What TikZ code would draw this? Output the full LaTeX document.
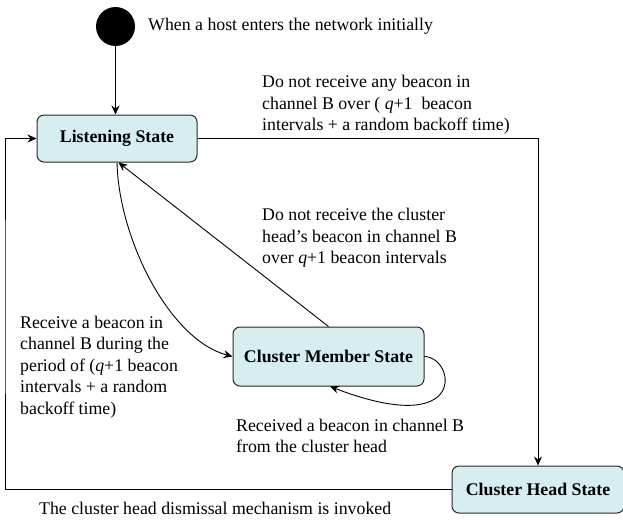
\documentclass[tikz,border=0pt]{standalone}
\usepackage{fontspec}
\setmainfont{Liberation Serif}
\usetikzlibrary{arrows.meta}
\definecolor{statefill}{RGB}{214,238,240}
\definecolor{stateline}{RGB}{40,40,40}
\tikzset{
  statebox/.style={draw=stateline, fill=statefill, line width=1pt, rounded corners=7pt,
    inner sep=0pt, font=\fontsize{17.8}{21.6}\selectfont\bfseries},
  lbl/.style={inner sep=0pt, anchor=west, align=left, font=\fontsize{17.8}{21.6}\selectfont},
  conn/.style={draw=black, line width=0.9pt, -{Stealth[length=9pt,width=8pt,inset=3pt]}},
  plain/.style={draw=black, line width=0.9pt}
}
\begin{document}
\begin{tikzpicture}[x=1pt,y=-1pt]
\useasboundingbox (0,0) rectangle (623,519);
% states
\node[circle, fill=black, minimum size=39pt, inner sep=0pt] (start) at (115.5,26.5) {};
\node[statebox, minimum width=160pt, minimum height=47pt] (listen) at (117,138.5) {Listening State};
\node[statebox, minimum width=191pt, minimum height=59pt] (member) at (328.5,356.5) {Cluster Member State};
\node[statebox, minimum width=172pt, minimum height=47pt] (head) at (538,489.5) {Cluster Head State};
% labels
\node[lbl] (t0) at (148,26.5) {When a host enters the network initially};
\node[lbl] (t1) at (262,105) {Do not receive any beacon in\\channel B over ( \textit{q}+1~ beacon\\intervals + a random backoff time)};
\node[lbl] (t2) at (262,238) {Do not receive the cluster\\head’s beacon in channel B\\over \textit{q}+1 beacon intervals};
\node[lbl] (t3) at (20,367) {Receive a beacon in\\channel B during the\\period of (\textit{q}+1 beacon\\intervals + a random\\backoff time)};
\node[lbl] (t4) at (236,436) {Received a beacon in channel B\\from the cluster head};
\node[lbl] (t5) at (39,508) {The cluster head dismissal mechanism is invoked};
% connectors
\coordinate (lc) at (5,300);
\coordinate (rc) at (539,300);
\draw[conn] (start) -- (start |- listen.north);
\draw[conn] (listen.east) -| (head.north);
\draw[conn] (head.west) -| (lc) |- (listen.west);
\draw[conn] (member.north) -- ([xshift=1.5pt]listen.south);
\draw[conn] (listen.south) .. controls (119,240) and (170,340) .. (member.west);
\draw[conn] (member.east) .. controls (455,357) and (470,440) .. ([xshift=1.5pt]member.south);
\end{tikzpicture}
\end{document}
